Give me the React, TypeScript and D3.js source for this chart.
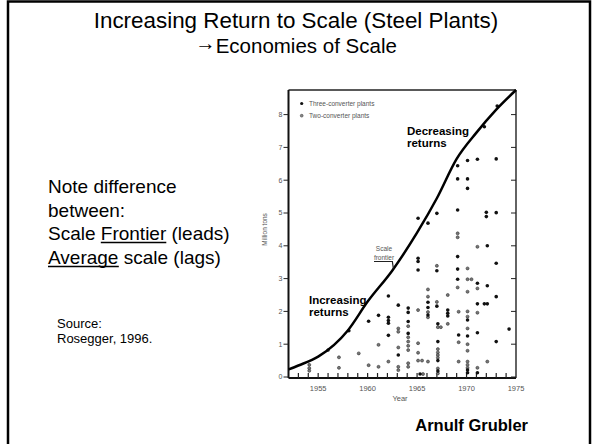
import React from 'react';
import * as d3 from 'd3';

// scale frontier (upper envelope)
const frontierYears = [1952, 1953, 1955, 1958, 1960, 1962.5, 1965, 1967, 1969, 1971, 1973, 1975];
const frontierValues = [0.23, 0.35, 0.62, 1.42, 2.3, 3.25, 4.4, 5.45, 6.65, 7.45, 8.15, 8.75];

// three-converter plants [year, million tons]
const threeConverter = [
  [1973.1, 8.26], [1971.8, 7.63], [1969.1, 6.44], [1970.1, 6.6], [1971.1, 6.64], [1973.0, 6.65],
  [1969.1, 6.04], [1970.1, 6.04], [1970.1, 5.75],
  [1965.1, 4.84], [1966.1, 4.69], [1967.0, 4.99], [1969.1, 5.09], [1972.0, 5.02], [1972.0, 4.89], [1973.0, 5.01],
  [1965.1, 3.62], [1965.1, 3.52], [1965.1, 3.26], [1967.0, 3.24], [1969.1, 3.67], [1972.1, 4.0], [1973.0, 3.47],
  [1969.1, 3.29], [1969.1, 2.98], [1971.1, 2.86], [1972.1, 2.78], [1973.0, 2.45],
  [1962.1, 2.47], [1963.1, 2.19], [1964.1, 2.1], [1964.1, 1.97], [1966.1, 2.28], [1966.1, 2.12], [1967.0, 2.16],
  [1971.1, 2.23], [1971.8, 2.23], [1972.1, 2.23],
  [1958.1, 1.41], [1960.1, 1.7], [1961.1, 1.88], [1962.1, 1.82], [1962.1, 1.72], [1962.1, 1.64], [1962.1, 1.27],
  [1964.1, 1.69], [1964.1, 1.33], [1966.1, 1.89], [1967.1, 1.62], [1967.1, 1.08],
  [1968.1, 2.04], [1968.1, 1.94], [1968.1, 1.86], [1969.2, 1.28], [1970.1, 1.74], [1970.1, 1.25],
  [1971.1, 1.35], [1973.0, 1.08], [1974.3, 1.46],
  [1965.3, 0.09], [1967.1, 0.18], [1970.1, 0.21], [1970.1, 0.13], [1971.1, 0.13], [1963.1, 0.67], [1967.1, 0.5],
];

// two-converter plants [year, million tons]
const twoConverter = [
  [1954.1, 0.37], [1954.1, 0.27], [1954.1, 0.19], [1956.0, 0.82], [1957.1, 0.6], [1957.1, 0.28],
  [1959.1, 0.72], [1960.1, 0.36], [1961.1, 0.98], [1961.1, 0.31], [1962.1, 0.47],
  [1963.1, 1.48], [1963.1, 1.38], [1963.1, 0.9], [1963.1, 0.31], [1963.1, 0.21],
  [1964.1, 1.55], [1964.1, 1.21], [1964.1, 1.08], [1964.1, 0.95], [1964.1, 0.82], [1964.1, 0.42], [1964.1, 0.31],
  [1965.1, 2.04], [1965.1, 1.03], [1965.1, 0.74], [1965.1, 0.5], [1965.5, 0.5], [1965.6, 0.09],
  [1966.1, 2.67], [1966.1, 2.45], [1966.1, 1.98], [1966.1, 1.82], [1966.1, 0.47],
  [1967.0, 3.39], [1967.0, 2.29], [1967.1, 1.52], [1967.4, 1.52], [1967.1, 0.85], [1967.1, 0.75],
  [1967.1, 0.67], [1967.1, 0.59], [1967.1, 0.26], [1967.1, 0.11],
  [1968.1, 2.5], [1968.1, 1.62], [1969.1, 4.38], [1969.1, 4.26], [1969.1, 2.73], [1969.2, 1.99], [1969.2, 1.06], [1969.2, 0.47],
  [1970.1, 3.31], [1970.1, 2.98], [1970.5, 2.98], [1970.1, 2.6], [1970.1, 2.0], [1970.1, 1.84], [1970.1, 1.48],
  [1970.1, 1.0], [1970.1, 0.8], [1970.1, 0.47], [1970.1, 0.37], [1970.1, 0.28],
  [1971.1, 3.97], [1971.1, 2.7], [1971.1, 1.96], [1971.1, 0.28], [1972.1, 0.47],
];

const yTicks = [0, 1, 2, 3, 4, 5, 6, 7, 8];
const xLabels = [1955, 1960, 1965, 1970, 1975];
const yearTicks = d3.range(1953, 1975);

const FONT = '"Liberation Sans", Arial, sans-serif';
const GREY = '#555';

export default function App() {
  const x = d3.scaleLinear().domain([1952, 1975]).range([288.5, 516]);
  const y = d3.scaleLinear().domain([0, 8.75]).range([377, 90]);

  const frontier = d3.line<number>()
    .x((d, i) => x(frontierYears[i]))
    .y((d) => y(d))
    .curve(d3.curveMonotoneX);

  const [x0, x1] = x.range();
  const [yb, yt] = y.range();
  const axisY = yb + 1;

  // leader from "Scale frontier" label to the curve
  const leadX = x(1962.5);
  const leadY = y(3.25);

  return (
    <svg width={592} height={444} style={{ position: 'absolute', left: 0, top: 0, background: '#fff' }}
      fontFamily={FONT}>
      {/* slide frame */}
      <rect x={8} y={1.5} width={582} height={470} fill="none" stroke="#000" strokeWidth={2.5} />

      <text x={296} y={28} textAnchor="middle" fontSize={22.4}>Increasing Return to Scale (Steel Plants)</text>
      <text x={296} y={52.5} textAnchor="middle" fontSize={20.5}>
        <tspan dy={-2.5}>→</tspan><tspan dy={2.5}>Economies of Scale</tspan>
      </text>

      <g fontSize={19}>
        <text x={48} y={193}>Note difference</text>
        <text x={48} y={217}>between:</text>
        <text x={48} y={240}>Scale Frontier (leads)</text>
        <text x={48} y={264}>Average scale (lags)</text>
      </g>
      <line x1={100.8} x2={166.3} y1={242.5} y2={242.5} stroke="#000" strokeWidth={1.3} />
      <line x1={48} x2={118.8} y1={266.5} y2={266.5} stroke="#000" strokeWidth={1.3} />

      <g fontSize={13}>
        <text x={57} y={328}>Source:</text>
        <text x={57} y={343}>Rosegger, 1996.</text>
      </g>

      <text x={528} y={431} textAnchor="end" fontSize={16.5} fontWeight="bold">Arnulf Grubler</text>

      {/* chart frame */}
      <line x1={x0} x2={x1} y1={yt} y2={yt} stroke="#222" strokeWidth={1.4} />
      <line x1={x1} x2={x1} y1={yt} y2={axisY} stroke="#222" strokeWidth={1.4} />
      <line x1={x0} x2={x0} y1={yt} y2={axisY} stroke="#111" strokeWidth={2} />
      <line x1={x0} x2={x1} y1={axisY} y2={axisY} stroke="#111" strokeWidth={2} />

      {yTicks.map((t) => (
        <g key={t}>
          <line x1={x0 - 5} x2={x0} y1={y(t)} y2={y(t)} stroke="#222" strokeWidth={1} />
          <line x1={x1 - 5} x2={x1} y1={y(t)} y2={y(t)} stroke="#222" strokeWidth={1} />
          <text x={x0 - 6} y={y(t) + 2.4} textAnchor="end" fontSize={7} fill={GREY}>{t}</text>
        </g>
      ))}
      {yearTicks.map((t) => (
        <line key={t} x1={x(t)} x2={x(t)} y1={axisY} y2={axisY - 5} stroke="#222" strokeWidth={1.2} />
      ))}
      {xLabels.map((t) => (
        <text key={t} x={x(t)} y={391} textAnchor="middle" fontSize={7.5} fill={GREY}>{t}</text>
      ))}
      <text x={400} y={401} textAnchor="middle" fontSize={7.5} fill={GREY}>Year</text>
      <text transform={`translate(267,${y(4.5)}) rotate(-90)`} textAnchor="middle" fontSize={6.5} fill={GREY}>Million tons</text>

      {/* legend */}
      <circle cx={301.7} cy={103.5} r={1.6} fill="#111" />
      <text x={309} y={106} fontSize={6.5} fill={GREY}>Three-converter plants</text>
      <circle cx={301.7} cy={115.7} r={1.4} fill="#888" stroke="#444" strokeWidth={0.6} />
      <text x={309} y={118} fontSize={6.5} fill={GREY}>Two-converter plants</text>

      {/* plants */}
      {twoConverter.map(([a, b], i) => (
        <circle key={`w${i}`} cx={x(a)} cy={y(b)} r={1.5} fill="#777" stroke="#333" strokeWidth={0.6} />
      ))}
      {threeConverter.map(([a, b], i) => (
        <circle key={`t${i}`} cx={x(a)} cy={y(b)} r={1.8} fill="#111" />
      ))}

      <path d={frontier(frontierValues) || ''} fill="none" stroke="#000" strokeWidth={2.5} />

      {/* annotations */}
      <g fontSize={11.5} fontWeight="bold">
        <text x={407} y={134.5}>Decreasing</text>
        <text x={407} y={147}>returns</text>
        <text x={309} y={303.5}>Increasing</text>
        <text x={309} y={316}>returns</text>
      </g>
      <g fontSize={6.5} fill={GREY} textAnchor="middle">
        <text x={384} y={250.5}>Scale</text>
        <text x={384} y={259.5}>frontier</text>
      </g>
      <polyline points={`374,261.5 ${leadX},261.5 ${leadX + 1},${leadY - 2}`} fill="none" stroke="#222" strokeWidth={1.2} />
    </svg>
  );
}
